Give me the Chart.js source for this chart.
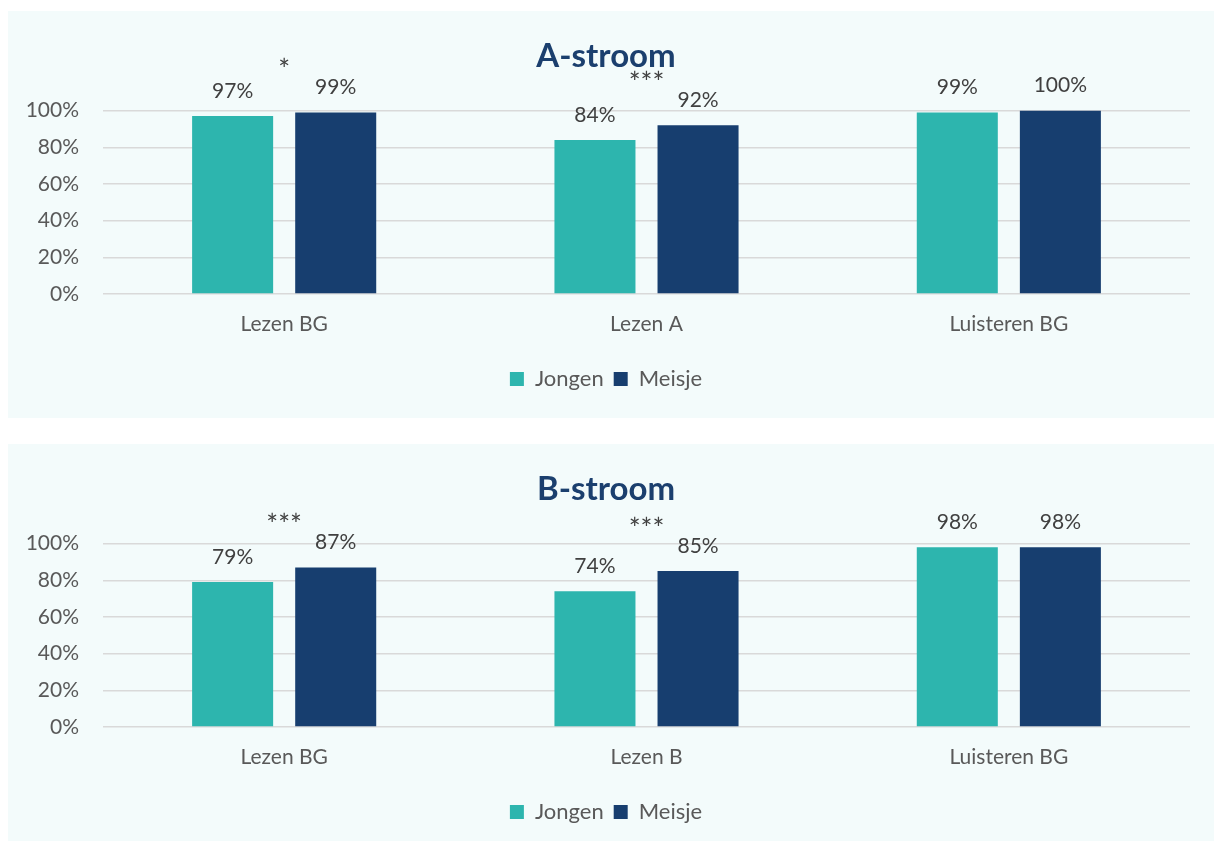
<!DOCTYPE html>
<html>
<head>
<meta charset="utf-8">
<script src="https://cdn.jsdelivr.net/npm/chart.js@4.4.1/dist/chart.umd.min.js"></script>
<style>
  html, body { margin: 0; padding: 0; background: #ffffff; overflow: hidden; }
  .paneel { position: absolute; left: 8px; width: 1206px; height: 407px; background: #F3FBFB; }
  #paneelA { top: 11px; }
  #paneelB { top: 444px; }
</style>
</head>
<body>
<div class="paneel" id="paneelA"><canvas id="grafiekA"></canvas></div>
<div class="paneel" id="paneelB"><canvas id="grafiekB"></canvas></div>
<script>
// gegevens
const groepen = ['Jongen', 'Meisje']
const categorieenA = ['Lezen BG', 'Lezen A', 'Luisteren BG']
const jongenA = [97, 84, 99]
const meisjeA = [99, 92, 100]
const sterrenA = ['*', '***', '']

const categorieenB = ['Lezen BG', 'Lezen B', 'Luisteren BG']
const jongenB = [79, 74, 98]
const meisjeB = [87, 85, 98]
const sterrenB = ['***', '***', '']

const yTicks = [0, 20, 40, 60, 80, 100]

const kleurJongen = '#2DB5AE'
const kleurMeisje = '#173E6F'
const lettertype = 'Lato'

// percentages boven de staven + sterretjes voor significantie
const labelsPlugin = {
    id: 'labelsPlugin',
    afterDatasetsDraw(chart, args, opts) {
        const ctx = chart.ctx
        ctx.save()
        ctx.fillStyle = '#404040'
        ctx.font = '21px ' + lettertype
        ctx.textAlign = 'center'
        ctx.textBaseline = 'middle'
        chart.data.datasets.forEach((ds, i) => {
            chart.getDatasetMeta(i).data.forEach((bar, j) => {
                ctx.fillText(ds.data[j] + '%', bar.x, bar.y - 25)
            })
        })
        const x = chart.scales.x
        const y = chart.scales.y
        ctx.textBaseline = 'alphabetic'
        ctx.font = '28px ' + lettertype
        opts.sterren.forEach((s, j) => {
            if (!s) return
            let hoogste = Math.max(...chart.data.datasets.map(ds => ds.data[j]))
            ctx.fillText(s, x.getPixelForValue(j), y.getPixelForValue(hoogste) - 32)
        })
        ctx.restore()
    }
}

let maakGrafiek = (id, titel, categorieen, jongen, meisje, sterren) => {
    let ctx = document.getElementById(id).getContext('2d')
    return new Chart(ctx, {
        type: 'bar',
        data: {
            labels: categorieen,
            datasets: [
                { label: groepen[0], data: jongen, backgroundColor: kleurJongen },
                { label: groepen[1], data: meisje, backgroundColor: kleurMeisje }
            ]
        },
        options: {
            responsive: true,
            maintainAspectRatio: false,
            animation: false,
            categoryPercentage: 0.569,
            barPercentage: 0.786,
            layout: { padding: { left: 14, right: 24, top: 0, bottom: 18 } },
            plugins: {
                title: {
                    display: true,
                    text: titel,
                    color: '#1B3F6E',
                    font: { family: lettertype, size: 33, weight: 'bold' },
                    padding: { top: 26, bottom: 34 }
                },
                legend: {
                    position: 'bottom',
                    labels: {
                        color: '#595959',
                        font: { family: lettertype, size: 22 },
                        boxWidth: 14,
                        boxHeight: 14,
                        padding: 10
                    }
                },
                tooltip: { enabled: false },
                labelsPlugin: { sterren: sterren }
            },
            scales: {
                x: {
                    grid: { display: false },
                    border: { display: false },
                    ticks: {
                        color: '#595959',
                        font: { family: lettertype, size: 21 },
                        padding: 10
                    },
                    afterFit: (s) => { s.height = 64 }
                },
                y: {
                    min: 0,
                    max: 100,
                    afterBuildTicks: (s) => { s.ticks = yTicks.map(v => ({ value: v })) },
                    grid: { color: '#D9D9D9', lineWidth: 1.5, drawTicks: false },
                    border: { display: false },
                    ticks: {
                        color: '#595959',
                        font: { family: lettertype, size: 21 },
                        padding: 24,
                        callback: (v) => v + '%'
                    },
                    afterFit: (s) => { s.width = 81 }
                }
            }
        },
        plugins: [labelsPlugin]
    })
}

window.addEventListener('DOMContentLoaded', (event) => {
    maakGrafiek('grafiekA', 'A-stroom', categorieenA, jongenA, meisjeA, sterrenA)
    maakGrafiek('grafiekB', 'B-stroom', categorieenB, jongenB, meisjeB, sterrenB)
})
</script>
</body>
</html>
